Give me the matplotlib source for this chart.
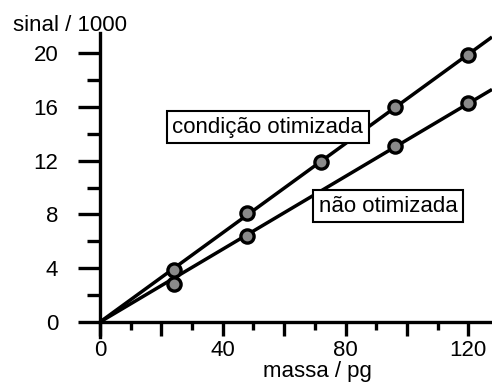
import numpy as np
import matplotlib
matplotlib.use('Agg')
import matplotlib.pyplot as plt
from matplotlib.ticker import MultipleLocator, FuncFormatter

plt.rcParams['font.family'] = ['Liberation Sans', 'DejaVu Sans']

# massa (pg) and sinal/1000
massa_otim = [24, 48, 72, 96, 120]
sinal_otim = [3.9, 8.1, 11.9, 16.0, 19.85]
massa_nao = [24, 48, 96, 120]
sinal_nao = [2.8, 6.4, 13.1, 16.3]
x_labelled = [0, 40, 80, 120]
y_ticks = [0, 4, 8, 12, 16, 20]

fig = plt.figure(figsize=(4.92, 3.82), dpi=100)
ax = fig.add_axes([100 / 492, 1 - 337 / 382, 392 / 492, 304 / 382])
ax.set_xlim(0, 127.7)
ax.set_ylim(-1.115, 21.49)

for sp in ['top', 'right']:
    ax.spines[sp].set_visible(False)
ax.spines['bottom'].set_position(('data', 0))
ax.spines['bottom'].set_linewidth(2.4)
ax.spines['left'].set_linewidth(2.4)

# straight lines through origin, least squares slope
xx = np.array([0, 127.7])
for mx, sy in [(massa_otim, sinal_otim), (massa_nao, sinal_nao)]:
    mx = np.asarray(mx, float)
    sy = np.asarray(sy, float)
    k = np.sum(mx * sy) / np.sum(mx * mx)
    ax.plot(xx, k * xx, color='black', lw=2.5, solid_capstyle='butt', zorder=2)
    ax.plot(mx, sy, 'o', ms=9.5, mfc='#8a8a8a', mec='black', mew=2.4, zorder=3, clip_on=False)

ax.xaxis.set_major_locator(MultipleLocator(20))
ax.xaxis.set_minor_locator(MultipleLocator(10))
ax.xaxis.set_major_formatter(FuncFormatter(lambda v, p: '%d' % v if int(round(v)) in x_labelled else ''))
ax.set_yticks(y_ticks)
ax.yaxis.set_minor_locator(MultipleLocator(2))
ax.tick_params(axis='both', which='both', direction='out', width=2.4, labelsize=16)
ax.tick_params(axis='x', which='major', length=10, pad=3)
ax.tick_params(axis='x', which='minor', length=6)
ax.tick_params(axis='y', which='major', length=16, pad=14)
ax.tick_params(axis='y', which='minor', length=9.5)

box = dict(boxstyle='square,pad=0.25', fc='white', ec='black', lw=1.5)
ax.text(54.7, 14.5, 'condição otimizada', fontsize=16, ha='center', va='center', bbox=box, zorder=5)
ax.text(93.8, 8.6, 'não otimizada', fontsize=16, ha='center', va='center', bbox=box, zorder=5)

fig.text(13 / 492, 1 - 31 / 382, 'sinal / 1000', fontsize=16, ha='left', va='baseline')
fig.text(317 / 492, 1 - 377 / 382, 'massa / pg', fontsize=16, ha='center', va='baseline')

fig.savefig('out.png', dpi=100)
